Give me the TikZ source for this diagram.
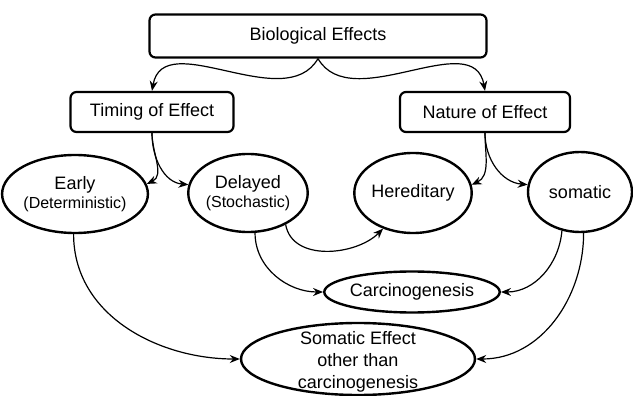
\documentclass[tikz,border=0pt]{standalone}
\usepackage{fontspec}
\setmainfont{Liberation Sans}
\usetikzlibrary{shapes.geometric,arrows.meta}
\begin{document}
\begin{tikzpicture}[x=1pt,y=1pt,
  box/.style={draw,line width=2.2pt,rounded corners=6pt,inner sep=0pt,font=\fontsize{18}{21}\selectfont},
  oval/.style={draw,ellipse,line width=2.4pt,inner sep=0pt,align=center,font=\fontsize{18}{21}\selectfont},
  conn/.style={line width=1.2pt,-{Stealth[length=10pt,width=8pt]}}]
\useasboundingbox (0,0) rectangle (633,-396);
\node[box,minimum width=337pt,minimum height=43pt] (bio) at (318,-36) {Biological Effects};
\node[box,minimum width=163pt,minimum height=40pt] (tim) at (152,-112) {Timing of Effect};
\node[box,minimum width=170pt,minimum height=40pt] (nat) at (485,-112) {Nature of Effect};
\node[oval,minimum width=117pt,minimum height=78pt] (early) at (75,-194) {Early\\[-2pt]{\fontsize{16}{19}\selectfont(Deterministic)}};
\node[oval,minimum width=114pt,minimum height=78pt] (del) at (248,-193) {Delayed\\[-2pt]{\fontsize{16}{19}\selectfont(Stochastic)}};
\node[oval,minimum width=115pt,minimum height=80pt] (her) at (413,-193) {Hereditary};
\node[oval,minimum width=104pt,minimum height=80pt] (som) at (580,-192) {somatic};
\node[oval,minimum width=160pt,minimum height=41pt] (car) at (412,-292) {Carcinogenesis};
\node[oval,minimum width=234pt,minimum height=72pt] (seff) at (358,-359) {};
\node[align=center,font=\fontsize{18}{22}\selectfont,inner sep=0pt] (sefftxt) at (358,-362) {Somatic Effect\\other than\\carcinogenesis};
\draw[conn] (bio.south) to[out=-120,in=80] (tim.north);
\draw[conn] (bio.south) to[out=-60,in=100] (nat.north);
\draw[conn] (tim.south) to[out=-90,in=25] (early.8);
\draw[conn] (tim.south) to[out=-90,in=175] (del.172);
\draw[conn] (nat.south) to[out=-90,in=25] (her.8);
\draw[conn] (nat.south) to[out=-90,in=175] (som.172);
\draw[conn] (del.-40) to[out=-80,in=-135] (her.-130);
\draw[conn] (del.-80) to[out=-90,in=180] (car.west);
\draw[conn] (som.-115) to[out=-95,in=0] (car.east);
\draw[conn] (early.-92) to[out=-90,in=180] (seff.west);
\draw[conn] (som.-85) to[out=-90,in=0] (seff.east);
\end{tikzpicture}
\end{document}
